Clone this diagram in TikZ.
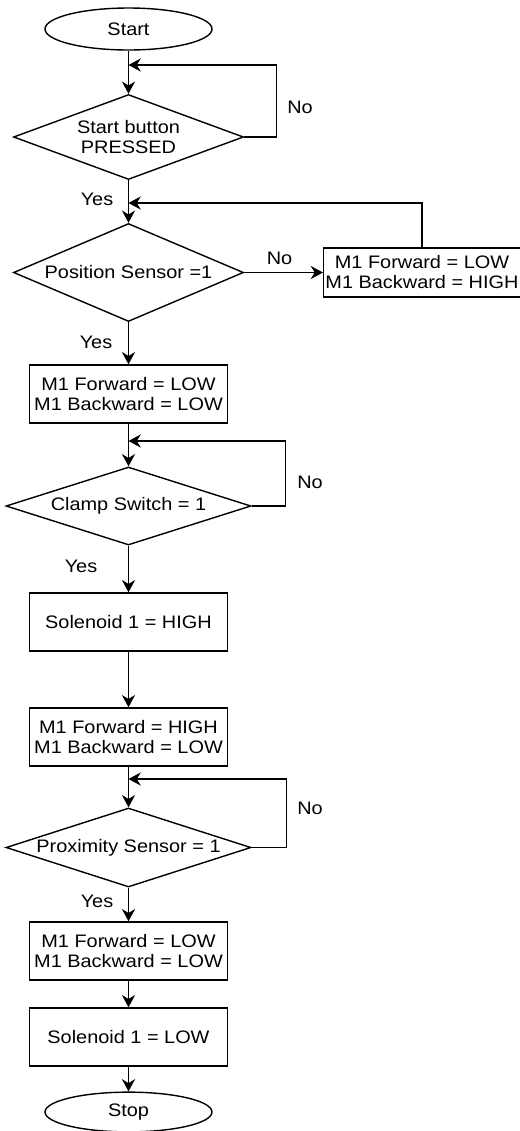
\documentclass[tikz,border=0pt]{standalone}
\usepackage{fontspec}
\setmainfont{Liberation Sans}[FakeStretch=1.1]
\usetikzlibrary{shapes.geometric,arrows.meta}

\begin{document}
\begin{tikzpicture}
		[font=\fontsize{10.3}{11.4}\selectfont,
		block/.style ={rectangle, draw=black, thick, align=center, inner xsep=1pt, minimum width=3.97cm, minimum height=1.16cm},
		sidebox/.style = {block, minimum width=3.88cm, minimum height=0.98cm},
		decision/.style ={diamond, draw=black, thick, align=center, aspect=3, inner sep=0pt, minimum width=4.6cm, minimum height=1.7cm},
		terminal/.style ={ellipse, draw=black, thick, minimum width=3.34cm, minimum height=0.84cm},
		line/.style ={draw, thick, -{Stealth[length=7pt,width=7.5pt]}},
		]
		\useasboundingbox (0,0) rectangle (10.4,-22.62);

		\draw (2.57,-0.58) node[terminal] (ST) {Start};
		\draw (2.57,-2.74) node[decision] (D1) {Start button\\PRESSED};
		\draw (2.57,-5.45) node[decision, minimum height=1.96cm] (D2) {Position Sensor =1};
		\draw (8.44,-5.45) node[sidebox] (POS) {M1 Forward = LOW\\M1 Backward = HIGH};
		\draw (2.57,-7.88) node[block] (B1) {M1 Forward = LOW\\M1 Backward = LOW};
		\draw (2.57,-10.12) node[decision, minimum width=4.9cm, minimum height=1.56cm] (D3) {Clamp Switch = 1};
		\draw (2.57,-12.44) node[block] (S1) {Solenoid 1 = HIGH};
		\draw (2.57,-14.74) node[block] (B2) {M1 Forward = HIGH\\M1 Backward = LOW};
		\draw (2.57,-16.95) node[decision, minimum width=4.9cm, minimum height=1.58cm] (D4) {Proximity Sensor = 1};
		\draw (2.57,-19.02) node[block] (B3) {M1 Forward = LOW\\M1 Backward = LOW};
		\draw (2.57,-20.74) node[block] (S2) {Solenoid 1 = LOW};
		\draw (2.57,-22.24) node[terminal, minimum height=0.78cm] (SP) {Stop};

		% junctions on the main line
		\coordinate (J1) at (2.57,-1.3);
		\coordinate (J2) at (2.57,-4.06);
		\coordinate (J3) at (2.57,-8.82);
		\coordinate (J4) at (2.57,-15.58);

		% labels
		\draw (6.0,-2.14) node (N1) {No};
		\draw (1.94,-3.98) node (Y1) {Yes};
		\draw (5.59,-5.16) node (N2) {No};
		\draw (1.92,-6.84) node (Y2) {Yes};
		\draw (6.2,-9.64) node (N3) {No};
		\draw (1.62,-11.32) node (Y3) {Yes};
		\draw (6.2,-16.16) node (N4) {No};
		\draw (1.94,-18.02) node (Y4) {Yes};

		\path[line] (ST) -- (D1);
		\path[line] (D1) -- (D2);
		\path[line] (D2) -- (B1);
		\path[line] (B1) -- (D3);
		\path[line] (D3) -- (S1);
		\path[line] (S1) -- (B2);
		\path[line] (B2) -- (D4);
		\path[line] (D4) -- (B3);
		\path[line] (B3) -- (S2);
		\path[line] (S2) -- (SP);
		\path[line] (D2.east) -- (POS.west);

		% loops back
		\path[line] (D1.east) -- ++(0.65,0) |- (J1);
		\path[line] (POS.north) |- (J2);
		\path[line] (D3.east) -- ++(0.67,0) |- (J3);
		\path[line] (D4.east) -- ++(0.7,0) |- (J4);
	\end{tikzpicture}
\end{document}
